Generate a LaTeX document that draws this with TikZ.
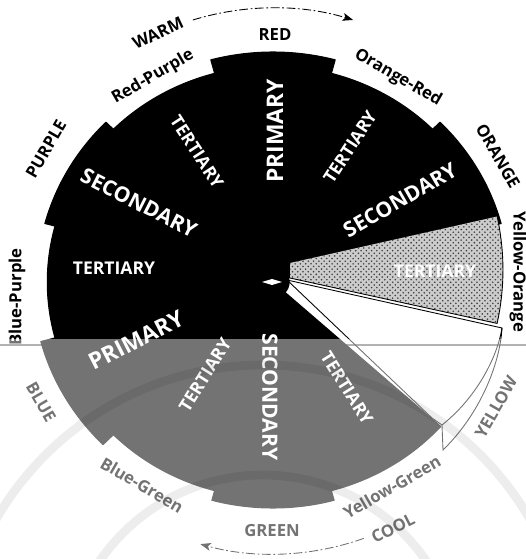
\documentclass[tikz,border=0pt]{standalone}
\usepackage{fontspec}
\setmainfont{Open Sans}
\usetikzlibrary{arrows.meta,patterns}

\tikzset{
  colorlabel/.style={font=\bfseries\fontsize{9.5}{10}\selectfont, inner sep=0pt},
  ranklabel/.style={text=white, font=\bfseries\fontsize{10}{11}\selectfont, inner sep=0pt},
  bigrank/.style={ranklabel, font=\bfseries\fontsize{12}{13}\selectfont},
  toprank/.style={ranklabel, font=\bfseries\fontsize{13}{14}\selectfont},
  templine/.style={line width=0.5pt, dash pattern=on 5pt off 1.5pt on 1pt off 1.5pt, -{Stealth[length=6pt,width=4.5pt,inset=1.5pt]}},
  slicerim/.style={line width=0.5pt},
  wedge/.style={fill=black, draw=black, line width=0.6pt, line join=round},
}

\begin{document}
\begin{tikzpicture}[x=0.02cm, y=0.02cm]
  \useasboundingbox (0,0) rectangle (526,559);
  \coordinate (hub) at (273,277);

  % Dividing line
  \draw[black!55, line width=0.6pt] (0,214) -- (526,214);

  % Wheel: primary, secondary and tertiary wedges
  \begin{scope}[shift={(hub)}, xscale=1.045]
    \foreach \a/\b/\r in {75/105/230, 105/135/216, 135/165/226, 165/195/216,
                          195/225/230, 225/255/216, 255/285/226, 285/318/216,
                          45/75/216, 15/45/226}
      \path[wedge] (0,0) -- (\a:\r) arc[start angle=\a, end angle=\b, radius=\r] -- cycle;
    \fill (0,0) circle[radius=16];
  \end{scope}

  % Yellow-Orange slice (stippled)
  \fill[gray!40] (290,296) -- (497.1,342.5) arc[start angle=12.5, end angle=-12.5, radius=247] -- (290,281) -- cycle;
  \fill[pattern=crosshatch dots, pattern color=black!75] (290,296) -- (497.1,342.5) arc[start angle=12.5, end angle=-12.5, radius=247] -- (290,281) -- cycle;
  \draw[slicerim] (497.1,342.5) arc[start angle=12.5, end angle=-12.5, radius=247] -- (290,281);

  % Yellow slice (open)
  \draw[slicerim] (287,279) -- (502,231) .. controls (497,200) and (475,160) .. (442,134) -- (432,141) -- cycle;
  \draw[slicerim] (502,231) .. controls (500,195) and (480,145) .. (443,109) -- (442,134);

  % Centre mark
  \fill[white] (262,277) -- (272,280) -- (282,277) -- (272,274) -- cycle;

  % Ranks inside the wheel
  \node[toprank, rotate=90] (primred) at (275,428) {PRIMARY};
  \node[ranklabel, rotate=-57] (terrp) at (197,407) {TERTIARY};
  \node[bigrank, rotate=-27] (secpurple) at (139,356) {SECONDARY};
  \node[ranklabel] (terbp) at (114,291) {TERTIARY};
  \node[toprank, rotate=27] (primblue) at (136,219) {PRIMARY};
  \node[ranklabel, rotate=58] (terbg) at (205,184) {TERTIARY};
  \node[bigrank, rotate=-90] (secgreen) at (270,162) {SECONDARY};
  \node[ranklabel, rotate=-58] (teryg) at (347,171) {TERTIARY};
  \node[ranklabel] (teryo) at (435,288) {TERTIARY};
  \node[ranklabel, rotate=57] (teror) at (350,412) {TERTIARY};
  \node[bigrank, rotate=30] (secorange) at (400,359) {SECONDARY};

  % Hue names around the wheel
  \node[colorlabel] (red) at (275,524) {RED};
  \node[colorlabel, rotate=-30] (orangered) at (398,481) {Orange-Red};
  \node[colorlabel, rotate=-60] (orange) at (498,403) {ORANGE};
  \node[colorlabel, rotate=-90] (yelloworange) at (518,287) {Yellow-Orange};
  \node[colorlabel, rotate=60] (yellow) at (496,152) {YELLOW};
  \node[colorlabel, rotate=30] (yellowgreen) at (392,72) {Yellow-Green};
  \node[colorlabel] (green) at (272,28) {GREEN};
  \node[colorlabel, rotate=-30] (bluegreen) at (142,74) {Blue-Green};
  \node[colorlabel, rotate=-60] (blue) at (41,157) {BLUE};
  \node[colorlabel, rotate=90] (bluepurple) at (17,262) {Blue-Purple};
  \node[colorlabel, rotate=60] (purple) at (46,410) {PURPLE};
  \node[colorlabel, rotate=30] (redpurple) at (153,482) {Red-Purple};
  \node[colorlabel, rotate=25] (warm) at (158,526) {WARM};
  \node[colorlabel, rotate=27] (cool) at (393,31) {COOL};

  % Warm and cool arrows
  \draw[templine] (hub) ++(107:274) arc[start angle=107, end angle=73, radius=274];
  \draw[templine] (hub) ++(-70.5:272) arc[start angle=-70.5, end angle=-105.5, radius=272];

  % Faded lower half
  \fill[white, opacity=0.45] (0,0) rectangle (526,220);
  \begin{scope}
    \clip (0,0) rectangle (526,220);
    \draw[black, opacity=0.07, line width=5pt] (263,-114) circle[radius=308];
    \draw[black, opacity=0.07, line width=5pt] (263,-114) circle[radius=198];
  \end{scope}
\end{tikzpicture}
\end{document}
